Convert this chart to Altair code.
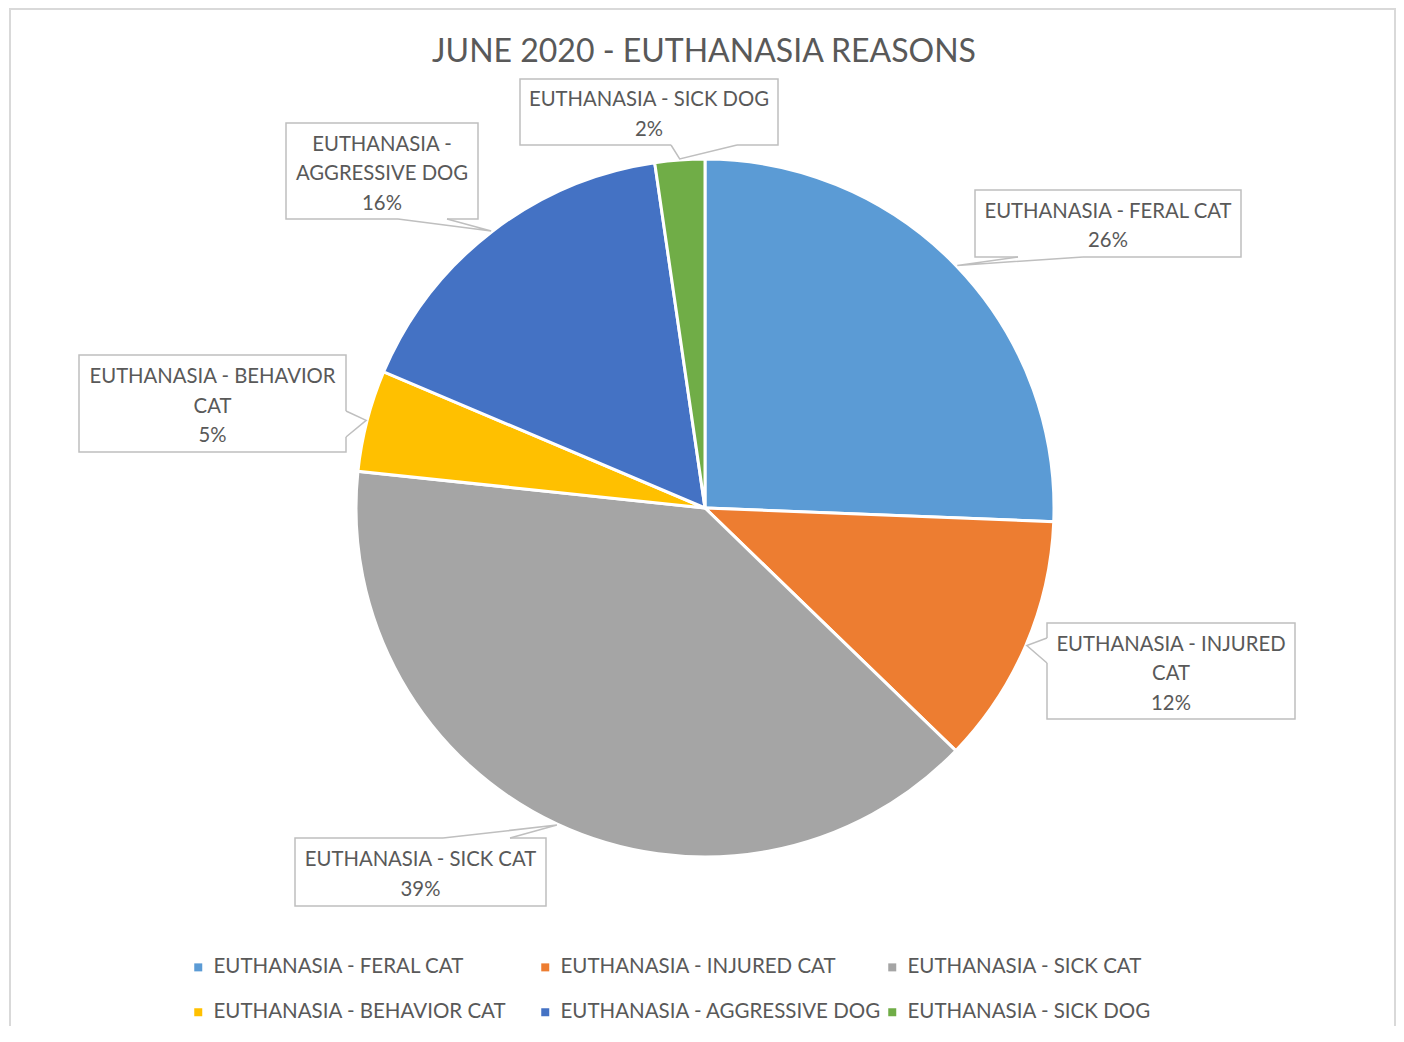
import math
import altair as alt
import pandas as pd

# ---------------- data ----------------
categories = [
    "EUTHANASIA - FERAL CAT",
    "EUTHANASIA - INJURED CAT",
    "EUTHANASIA - SICK CAT",
    "EUTHANASIA - BEHAVIOR CAT",
    "EUTHANASIA - AGGRESSIVE DOG",
    "EUTHANASIA - SICK DOG",
]
shares = [25.6, 11.6, 39.4, 4.7, 16.3, 2.3]
callout_lines = [
    ["EUTHANASIA - FERAL CAT"],
    ["EUTHANASIA - INJURED", "CAT"],
    ["EUTHANASIA - SICK CAT"],
    ["EUTHANASIA - BEHAVIOR", "CAT"],
    ["EUTHANASIA -", "AGGRESSIVE DOG"],
    ["EUTHANASIA - SICK DOG"],
]
title_text = "JUNE 2020 - EUTHANASIA REASONS"

# ---------------- style / layout ----------------
colors = ["#5B9BD5", "#ED7D31", "#A5A5A5", "#FFC000", "#4472C4", "#70AD47"]
FONT = "Lato"
TXT = "#595959"
BOX = "#BFBFBF"
W, H = 1388, 1018
PAGE = 8
CX, CY, R = 705, 508, 349
LH = 29.5
box_x1 = [975, 1047, 295, 79, 286, 520]
box_x2 = [1241, 1295, 546, 346, 478, 778]
box_y1 = [190, 623, 838, 355, 123, 79]
box_y2 = [257, 719, 906, 452, 219, 145]
wedge_a = [(1018, 257), (1047, 638), (443, 838), (346, 411), (398, 219), (671, 145)]
wedge_b = [(1083, 257), (1047, 663), (510, 838), (346, 437), (447, 219), (737, 145)]


def X(field):
    return alt.X(field, type="quantitative", axis=None,
                 scale=alt.Scale(domain=[PAGE, PAGE + W], range=[0, W], nice=False, zero=False))


def Y(field):
    return alt.Y(field, type="quantitative", axis=None,
                 scale=alt.Scale(domain=[PAGE, PAGE + H], range=[0, H], nice=False, zero=False))


total = sum(shares)
pie_df = pd.DataFrame({"cat": categories, "share": shares, "idx": list(range(len(categories)))})

# callout tables
box_rows, wedge_rows, gap_rows = [], [], []
cum = 0.0
for i, (c, s) in enumerate(zip(categories, shares)):
    mid = (cum + s / 2) / total * 2 * math.pi
    cum += s
    tip = (CX + (R + 1) * math.sin(mid), CY - (R + 1) * math.cos(mid))
    pct = round(100 * s / total)
    lines = callout_lines[i] + [f"{pct}%"]
    box_rows.append({
        "id": i, "x1": box_x1[i], "x2": box_x2[i], "y1": box_y1[i], "y2": box_y2[i],
        "tx": (box_x1[i] + box_x2[i]) / 2,
        "ty": (box_y1[i] + box_y2[i]) / 2 + 3 - (len(lines) - 1) * LH / 2,
        "label": "\n".join(lines),
    })
    for k, p in enumerate([wedge_a[i], tip, wedge_b[i]]):
        wedge_rows.append({"id": i, "k": k, "x": p[0], "y": p[1]})
    gap_rows.append({"id": i, "ax": wedge_a[i][0], "ay": wedge_a[i][1],
                     "bx": wedge_b[i][0], "by": wedge_b[i][1]})

box_df = pd.DataFrame(box_rows)
wedge_df = pd.DataFrame(wedge_rows)
gap_df = pd.DataFrame(gap_rows)
frame_df = pd.DataFrame({"x1": [10], "x2": [1395], "y1": [9], "y2": [1100]})
title_df = pd.DataFrame({"t": [title_text], "x": [704], "y": [52]})

frame = alt.Chart(frame_df).mark_rect(
    fill="white", fillOpacity=0, stroke="#D9D9D9", strokeWidth=2
).encode(x=X("x1"), x2="x2", y=Y("y1"), y2="y2")

pie = alt.Chart(pie_df).mark_arc(
    outerRadius=R, stroke="white", strokeWidth=3
).encode(
    theta=alt.Theta("share:Q", stack=True),
    order=alt.Order("idx:Q"),
    color=alt.Color(
        "cat:N",
        scale=alt.Scale(domain=categories, range=colors),
        legend=alt.Legend(
            title=None, orient="none", legendX=188 - PAGE, legendY=967 - PAGE - 10,
            direction="horizontal", columns=3, gridAlign="all",
            columnPadding=0, rowPadding=24, padding=0,
            symbolType="square", symbolSize=64, symbolStrokeWidth=0,
            labelFont=FONT, labelFontSize=20.5, labelColor=TXT,
            labelLimit=600, labelOffset=5,
        ),
    ),
    x=alt.value(CX - PAGE),
    y=alt.value(CY - PAGE),
)

boxes = alt.Chart(box_df).mark_rect(
    fill="white", stroke=BOX, strokeWidth=1.5
).encode(x=X("x1"), x2="x2", y=Y("y1"), y2="y2")

gaps = alt.Chart(gap_df).mark_rule(color="white", strokeWidth=3).encode(
    x=X("ax"), x2="bx", y=Y("ay"), y2="by"
)

wedges = alt.Chart(wedge_df).mark_line(
    color=BOX, strokeWidth=1.5, strokeJoin="miter"
).encode(x=X("x"), y=Y("y"), detail="id:N", order="k:Q")

labels = alt.Chart(box_df).mark_text(
    font=FONT, fontSize=20.3, color=TXT, lineBreak="\n", lineHeight=LH,
    align="center", baseline="middle"
).encode(x=X("tx"), y=Y("ty"), text="label:N")

title = alt.Chart(title_df).mark_text(
    font=FONT, fontSize=32, color=TXT, align="center", baseline="middle"
).encode(x=X("x"), y=Y("y"), text="t:N")

chart = alt.layer(frame, pie, boxes, gaps, wedges, labels, title).properties(
    width=W, height=H, padding=0, autosize=alt.AutoSizeParams(type="none"),
    background="white",
).configure_view(strokeWidth=0)

chart.save("out.html", embed_options={"renderer": "svg", "actions": False})
